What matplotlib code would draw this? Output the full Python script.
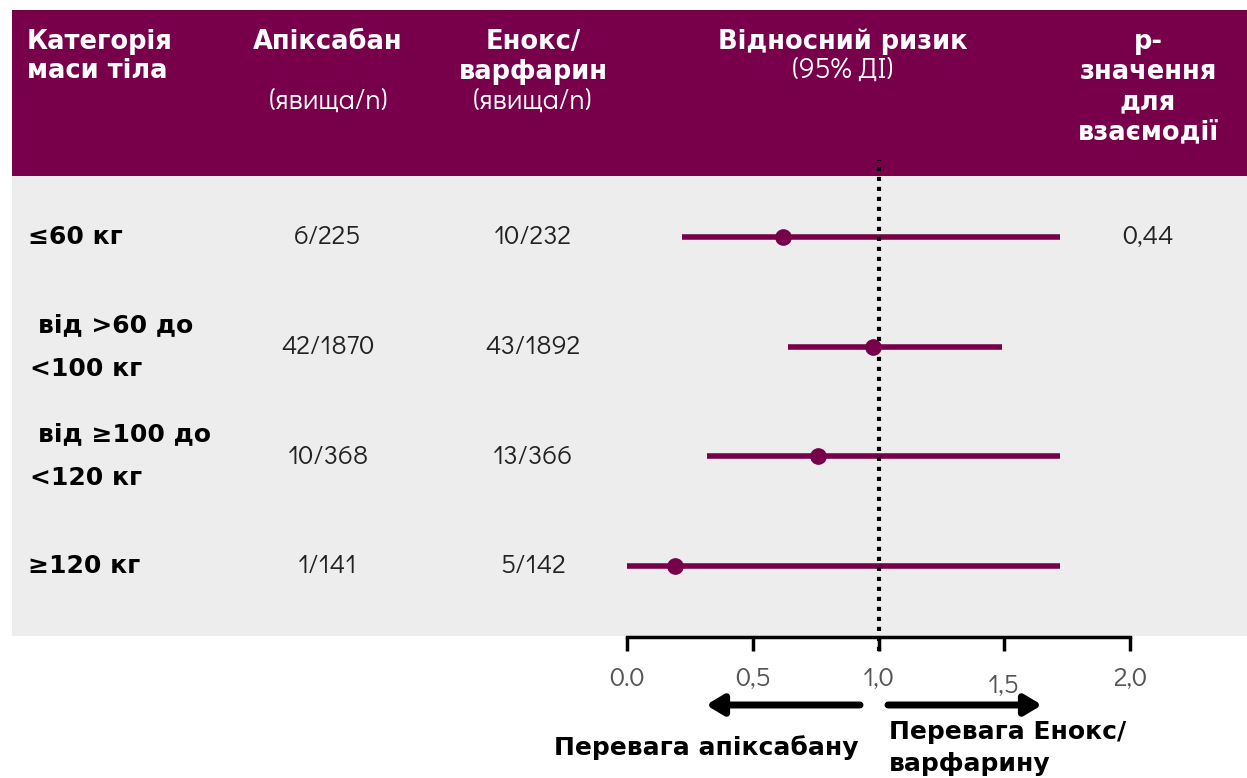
import matplotlib
matplotlib.use("Agg")
import matplotlib.pyplot as plt
from matplotlib.patches import Rectangle

# дані по категоріях маси тіла
категорії = [["≤60 кг"], ["від >60 до", "<100 кг"], ["від ≥100 до", "<120 кг"], ["≥120 кг"]]
апіксабан = ["6/225", "42/1870", "10/368", "1/141"]
енокс = ["10/232", "43/1892", "13/366", "5/142"]
ризик = [0.62, 0.98, 0.76, 0.19]
ді_низ = [0.22, 0.64, 0.32, 0.00]
ді_верх = [1.72, 1.49, 1.72, 1.72]
p_взаємодії = ["0,44", "", "", ""]
тіки = [0.0, 0.5, 1.0, 1.5, 2.0]
тіки_підписи = ["0.0", "0,5", "1,0", "1,5", "2,0"]

ПУРПУР = "#78004a"
СІРИЙ = "#ededed"
BOLD = ["DejaVu Sans"]
LIGHT = ["Didact Gothic", "DejaVu Sans"]

W, H = 1247, 778
fig = plt.figure(figsize=(W / 100, H / 100), dpi=100)

# фон у піксельних координатах
bg = fig.add_axes([0, 0, 1, 1])
bg.set_xlim(0, W)
bg.set_ylim(H, 0)
bg.axis("off")
bg.add_patch(Rectangle((12, 10), W - 12, 166, color=ПУРПУР, lw=0))
bg.add_patch(Rectangle((12, 176), W - 12, 460, color=СІРИЙ, lw=0))

def hdr(x, y, s, ha="center", bold=True, size=18.5):
    bg.text(x, y, s, ha=ha, va="center", color="white", fontsize=size,
            fontweight="bold" if bold else "normal", family=BOLD if bold else LIGHT)

hdr(27, 42, "Категорія", ha="left")
hdr(27, 71, "маси тіла", ha="left")
hdr(328, 42, "Апіксабан")
hdr(328, 101, "(явища/n)", bold=False, size=20.5)
hdr(533, 42, "Енокс/")
hdr(533, 72, "варфарин")
hdr(533, 101, "(явища/n)", bold=False, size=20.5)
hdr(843, 42, "Відносний ризик")
hdr(843, 70, "(95% ДІ)", bold=False, size=20.5)
for i, s in enumerate(["р-", "значення", "для", "взаємодії"]):
    hdr(1148, 42 + i * 30, s)

# рядки таблиці
y0, крок = 237, 109.7
for i, назва in enumerate(категорії):
    y = y0 + i * крок
    if len(назва) == 1:
        bg.text(28, y, назва[0], ha="left", va="center", fontsize=18,
                fontweight="bold", family=BOLD)
    else:
        bg.text(38, y - 22, назва[0], ha="left", va="center", fontsize=18,
                fontweight="bold", family=BOLD)
        bg.text(30, y + 22, назва[1], ha="left", va="center", fontsize=18,
                fontweight="bold", family=BOLD)
    bg.text(328, y, апіксабан[i], ha="center", va="center", fontsize=19.5,
            family=LIGHT, color="#222222")
    bg.text(533, y, енокс[i], ha="center", va="center", fontsize=19.5,
            family=LIGHT, color="#222222")
    if p_взаємодії[i]:
        bg.text(1148, y, p_взаємодії[i], ha="center", va="center", fontsize=19.5,
                family=LIGHT, color="#222222")

# форест-плот
top_px, bot_px, left_px, right_px = 160, 637, 627, 1130
ax = fig.add_axes([left_px / W, (H - bot_px) / H,
                   (right_px - left_px) / W, (bot_px - top_px) / H])
ax.patch.set_alpha(0)
ax.set_xlim(0, 2)
ax.set_ylim((bot_px - y0) / крок, (top_px - y0) / крок)
рядки = list(range(len(ризик)))
ax.hlines(рядки, ді_низ, ді_верх, color=ПУРПУР, lw=4)
ax.plot(ризик, рядки, "o", color=ПУРПУР, ms=11, zorder=3)
ax.axvline(1.0, ymin=-0.03, ymax=1, color="black", lw=3,
           ls=(0, (1, 1.4)), clip_on=False, zorder=2)
for s in ["top", "left", "right"]:
    ax.spines[s].set_visible(False)
ax.spines["bottom"].set_linewidth(2.5)
ax.set_yticks([])
ax.set_xticks(тіки)
ax.set_xticklabels(тіки_підписи, fontsize=19.5, color="#555555", family=LIGHT)
ax.tick_params(axis="x", length=10, width=2.5, pad=11)
ax.get_xticklabels()[3].set_y(-0.014)

# стрілки та підписи переваги
bg.annotate("", xy=(706, 705), xytext=(860, 705),
            arrowprops=dict(arrowstyle="-|>,head_length=1.0,head_width=0.6",
                            lw=5, color="black", shrinkA=0, shrinkB=0))
bg.annotate("", xy=(1042, 705), xytext=(888, 705),
            arrowprops=dict(arrowstyle="-|>,head_length=1.0,head_width=0.6",
                            lw=5, color="black", shrinkA=0, shrinkB=0))
bg.text(858, 748, "Перевага апіксабану", ha="right", va="center",
        fontsize=18, fontweight="bold", family=BOLD)
bg.text(889, 732, "Перевага Енокс/", ha="left", va="center",
        fontsize=18, fontweight="bold", family=BOLD)
bg.text(889, 764, "варфарину", ha="left", va="center",
        fontsize=18, fontweight="bold", family=BOLD)

fig.savefig("out.png", dpi=100)
